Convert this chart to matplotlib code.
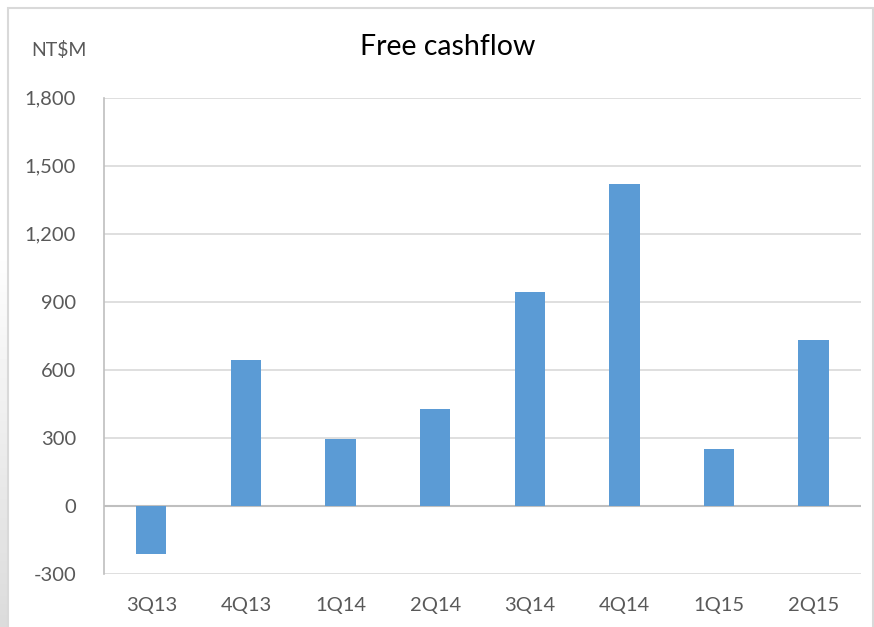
import matplotlib
matplotlib.use("Agg")
import numpy as np
import matplotlib.pyplot as plt
from matplotlib.patches import Rectangle
from matplotlib.ticker import FuncFormatter

quarters = ["3Q13", "4Q13", "1Q14", "2Q14", "3Q14", "4Q14", "1Q15", "2Q15"]
free_cashflow = [-215, 645, 295, 425, 945, 1420, 250, 730]
y_ticks = [-300, 0, 300, 600, 900, 1200, 1500, 1800]

plt.rcParams["font.family"] = ["Lato", "DejaVu Sans"]

fig = plt.figure(figsize=(8.74, 6.27), dpi=100)

# grey shadow strip on the left edge (fades out upward)
strip = fig.add_axes([0, 0, 7 / 874, 0.62])
strip.imshow(np.linspace(0.86, 1.0, 100).reshape(-1, 1), cmap="gray", vmin=0, vmax=1,
             aspect="auto", origin="lower")
strip.axis("off")

ax = fig.add_axes([0.119, 0.085, 0.866, 0.759])

# outer chart frame
fig.patches.append(Rectangle((8 / 874, -0.01), 865 / 874, 1 - 7.5 / 627 + 0.01,
                             transform=fig.transFigure, fill=False,
                             edgecolor="#d9d9d9", linewidth=1.5))

x = range(len(quarters))
ax.bar(x, free_cashflow, width=0.32, color="#5b9bd5", zorder=3)

ax.set_ylim(-300, 1800)
ax.set_xlim(-0.5, len(quarters) - 0.5)
ax.set_yticks(y_ticks)
ax.yaxis.set_major_formatter(FuncFormatter(lambda v, p: f"{int(v):,}"))
ax.set_xticks(list(x))
ax.set_xticklabels(quarters)

ax.grid(axis="y", color="#d9d9d9", linewidth=1.2, zorder=0)
ax.axhline(0, color="#bfbfbf", linewidth=1.5, zorder=2)
for s in ["top", "right", "bottom"]:
    ax.spines[s].set_visible(False)
ax.spines["left"].set_color("#bfbfbf")
ax.spines["left"].set_linewidth(1.2)

ax.tick_params(axis="both", length=0, labelsize=14.5, labelcolor="#595959")
ax.tick_params(axis="y", pad=20)
ax.tick_params(axis="x", pad=17)

fig.text(448 / 874, 1 - 47 / 627, "Free cashflow", ha="center", va="center",
         fontsize=20.5, color="black")
fig.text(31 / 874, 1 - 50 / 627, "NT$M", ha="left", va="center",
         fontsize=14, color="#595959")

fig.savefig("out.png", dpi=100)
